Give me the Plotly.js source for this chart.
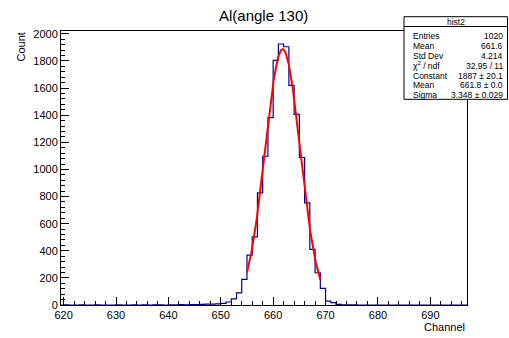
<!DOCTYPE html>
<html>
<head>
<meta charset="utf-8">
<script src="https://cdn.plot.ly/plotly-3.0.1.min.js"></script>
<style>html,body{margin:0;padding:0;background:#fff;}#plot{width:509px;height:338px;}</style>
</head>
<body>
<div id="plot"></div>
<script>
// Histogram bins: left edges (channel) and contents
var binStart = 619;
var counts = [
  0, 1, 0, 0, 1, 0, 0, 1, 0, 0,      // 619-628
  0, 1, 0, 0, 1, 0, 1, 0, 1, 1,      // 629-638
  0, 2, 1, 3, 2, 3, 3, 5, 6, 6,      // 639-648
  8, 12, 22, 45, 90, 189, 368, 503, 827, 1097, // 649-658
  1382, 1804, 1925, 1905, 1620, 1406, 1088, 753, 410, 238, // 659-668
  123, 29, 17, 5, 2, 1, 1, 0, 0, 0,  // 669-678
  0, 0, 0, 0, 0, 0, 0, 0, 0, 0,      // 679-688
  0, 0, 0, 0, 0, 0, 0, 0             // 689-696
];
// Gaussian fit parameters (from stats box)
var fitConstant = 1887, fitMean = 661.8, fitSigma = 3.348;
var fitRange = [655, 669];
var statsTitle = "hist2";
var statsNames = ["Entries", "Mean", "Std Dev", "\u03c7<sup>2</sup> / ndf", "Constant", "Mean", "Sigma"];
var statsValues = ["1020", "661.6", "4.214", "32.95 / 11", "1887 \u00b1 20.1", "661.8 \u00b1 0.0", "3.348 \u00b1 0.029"];
var titleText = "Al(angle 130)";
var xTitle = "Channel", yTitle = "Count";

var hx = [], hy = [];
for (var i = 0; i < counts.length; i++) { hx.push(binStart + i); hy.push(counts[i]); }
hx.push(binStart + counts.length); hy.push(counts[counts.length - 1]);

var fx = [], fy = [];
var n = 140;
for (var k = 0; k <= n; k++) {
  var x = fitRange[0] + (fitRange[1] - fitRange[0]) * k / n;
  fx.push(x);
  fy.push(fitConstant * Math.exp(-0.5 * Math.pow((x - fitMean) / fitSigma, 2)));
}

var W = 509, H = 338, L = 61, R = 42, T = 31, B = 33;
var pw = W - L - R, ph = H - T - B;
function px(x) { return (x - L) / pw; }
function py(y) { return (H - B - y) / ph; }

var font = "Liberation Sans, Arial, Helvetica, sans-serif";
var annotations = [];
annotations.push({xref:'paper', yref:'paper', x: px(263.5), y: py(15), text: titleText, showarrow:false, xanchor:'center', yanchor:'middle', font:{family:font, size:15, color:'#000'}});
annotations.push({xref:'paper', yref:'paper', x: px(467), y: py(327), text: xTitle, showarrow:false, xanchor:'right', yanchor:'middle', font:{family:font, size:11, color:'#000'}});
annotations.push({xref:'paper', yref:'paper', x: px(20), y: py(31), text: yTitle, showarrow:false, xanchor:'center', yanchor:'top', textangle:-90, font:{family:font, size:11, color:'#000'}});

var boxL = 404, boxR = 507.5, boxT = 16.7, boxB = 99.3, hdrB = 26.5;
annotations.push({xref:'paper', yref:'paper', x: px((boxL + boxR) / 2), y: py(21.5), text: statsTitle, showarrow:false, xanchor:'center', yanchor:'middle', font:{family:font, size:8.5, color:'#000'}});
for (var j = 0; j < statsNames.length; j++) {
  var yy = 35.7 + 9.95 * j;
  annotations.push({xref:'paper', yref:'paper', x: px(411), y: py(yy), text: statsNames[j], showarrow:false, xanchor:'left', yanchor:'middle', font:{family:font, size:8.5, color:'#000'}});
  annotations.push({xref:'paper', yref:'paper', x: px(504.5), y: py(yy), text: statsValues[j], showarrow:false, xanchor:'right', yanchor:'middle', font:{family:font, size:8.5, color:'#000'}});
}
var shapes = [
  {type:'rect', xref:'paper', yref:'paper', x0: px(boxL), x1: px(boxR), y0: py(boxB), y1: py(boxT), line:{color:'#000', width:1}, fillcolor:'#fff', layer:'above'},
  {type:'line', xref:'paper', yref:'paper', x0: px(boxL), x1: px(boxR), y0: py(hdrB), y1: py(hdrB), line:{color:'#000', width:1}, layer:'above'}
];

var data = [
  {x: hx, y: hy, type:'scatter', mode:'lines', line:{shape:'hv', color:'#000099', width:1.2}, hoverinfo:'skip'},
  {x: fx, y: fy, type:'scatter', mode:'lines', line:{color:'#ff0000', width:2}, hoverinfo:'skip'}
];

var layout = {
  width: W, height: H,
  margin: {l: L, r: R, t: T, b: B, pad: 0},
  paper_bgcolor:'#fff', plot_bgcolor:'#fff',
  showlegend:false,
  font:{family:font, size:11, color:'#000'},
  xaxis: {range:[619.5, 697], tick0:620, dtick:10, ticks:'inside', ticklen:8, tickcolor:'#000', tickwidth:1,
          showline:true, linecolor:'#000', linewidth:1, mirror:true, showgrid:false, zeroline:false,
          tickfont:{family:font, size:11, color:'#000'},
          minor:{dtick:2, ticks:'inside', ticklen:4, tickcolor:'#000', showgrid:false}},
  yaxis: {range:[0, 2021], tick0:0, dtick:200, ticks:'inside', ticklen:8, tickcolor:'#000', tickwidth:1,
          showline:true, linecolor:'#000', linewidth:1, mirror:true, showgrid:false, zeroline:false,
          tickfont:{family:font, size:11, color:'#000'},
          minor:{dtick:40, ticks:'inside', ticklen:4, tickcolor:'#000', showgrid:false}},
  annotations: annotations,
  shapes: shapes
};
Plotly.newPlot('plot', data, layout, {staticPlot:true, displayModeBar:false});
</script>
</body>
</html>
